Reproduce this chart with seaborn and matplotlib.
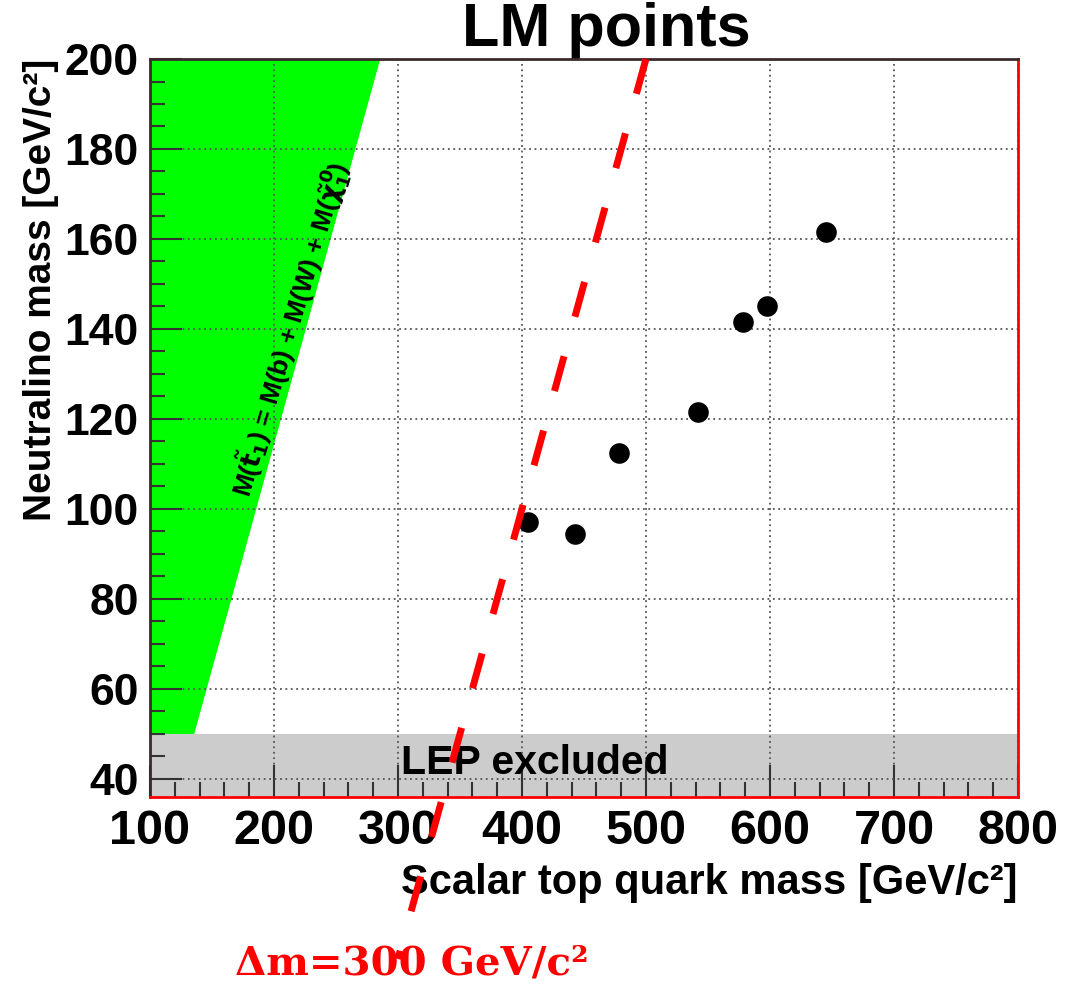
import numpy as np
import matplotlib
matplotlib.use('Agg')
import matplotlib.pyplot as plt
from matplotlib.ticker import MultipleLocator
import seaborn as sns

#data
stop_mass = [405, 443, 478, 542, 578, 598, 645]
chi_mass = [97, 94.5, 112.5, 121.5, 141.5, 145, 161.5]

m_b = 4.8
m_w = 80.4
lep_limit = 50
chi_band = [50, 200]
delta_m = 300
dm_chi = [200, 0]

#style
sns.set_style('white')
plt.rcParams['font.family'] = ['Liberation Sans', 'DejaVu Sans']
plt.rcParams['font.weight'] = 'bold'
plt.rcParams['mathtext.fontset'] = 'dejavusans'
for key in ['text.color', 'axes.labelcolor', 'xtick.color', 'ytick.color']:
    plt.rcParams[key] = 'black'

fig = plt.figure(figsize=(10.78, 9.85), dpi=100)
ax = fig.add_axes([0.1391, 0.1909, 0.8052, 0.7492])

#kinematic limit region
edge = [c + m_b + m_w for c in chi_band]
ax.fill_betweenx(chi_band, 100, edge, color='#00ff00', lw=0, zorder=0.5)
ax.text(213, 140, r'M($\mathbf{\tilde{t}_1}$) = M(b) + M(W) + M($\mathbf{\tilde{\chi}^0_1}$)',
        rotation=73.5, rotation_mode='anchor', ha='center', va='center',
        fontsize=19, fontweight='bold', color='black', zorder=3)

#LEP excluded
ax.axhspan(30, lep_limit, color='#cccccc', lw=0, zorder=0.5)
ax.text(410, 41.1, 'LEP excluded', ha='center', va='baseline',
        fontsize=29.5, fontweight='bold', zorder=3)

#points
sns.scatterplot(x=stop_mass, y=chi_mass, ax=ax, color='black', s=220,
                edgecolor='black', linewidth=0, zorder=4)

#delta m line
dm_x = [c + delta_m for c in dm_chi]
ax.plot(dm_x, dm_chi, color='red', lw=5, linestyle=(0, (5.2, 5.9)),
        solid_capstyle='butt', dash_capstyle='butt', clip_on=False, zorder=6)

#axes
ax.set_xlim(100, 800)
ax.set_ylim(36, 200)
ax.xaxis.set_major_locator(MultipleLocator(100))
ax.xaxis.set_minor_locator(MultipleLocator(20))
ax.yaxis.set_major_locator(MultipleLocator(20))
ax.yaxis.set_minor_locator(MultipleLocator(5))
ax.grid(True, which='major', linestyle=(0, (1, 2)), color='#555555', lw=1.3)
ax.set_axisbelow(False)
ax.tick_params(which='both', direction='in', bottom=True, left=True,
               top=False, right=False, color='#333333', width=1.5)
ax.tick_params(which='major', length=23)
ax.tick_params(which='minor', length=11)
ax.tick_params(axis='x', labelsize=35, pad=9)
ax.tick_params(axis='y', labelsize=32, pad=8)
for lab in ax.get_xticklabels() + ax.get_yticklabels():
    lab.set_fontweight('bold')

for side in ['top', 'left']:
    ax.spines[side].set_color('#3a2a2a')
for side in ['bottom', 'right']:
    ax.spines[side].set_color('red')
for side in ax.spines:
    ax.spines[side].set_linewidth(2)
    ax.spines[side].set_zorder(5)

ax.set_xlabel('Scalar top quark mass [GeV/c²]', loc='right',
              fontsize=30, fontweight='bold', labelpad=6)
ax.set_ylabel('Neutralino mass [GeV/c²]', loc='top',
              fontsize=28, fontweight='bold', labelpad=4)
ax.set_title('LM points', fontsize=44, fontweight='bold', x=0.526, pad=7)

fig.text(235 / 1078, 1 - 975 / 985, 'Δm=300 GeV/c²', color='red',
         fontsize=29, fontweight='bold', family='DejaVu Serif', va='baseline')

fig.savefig('out.png', dpi=100)
